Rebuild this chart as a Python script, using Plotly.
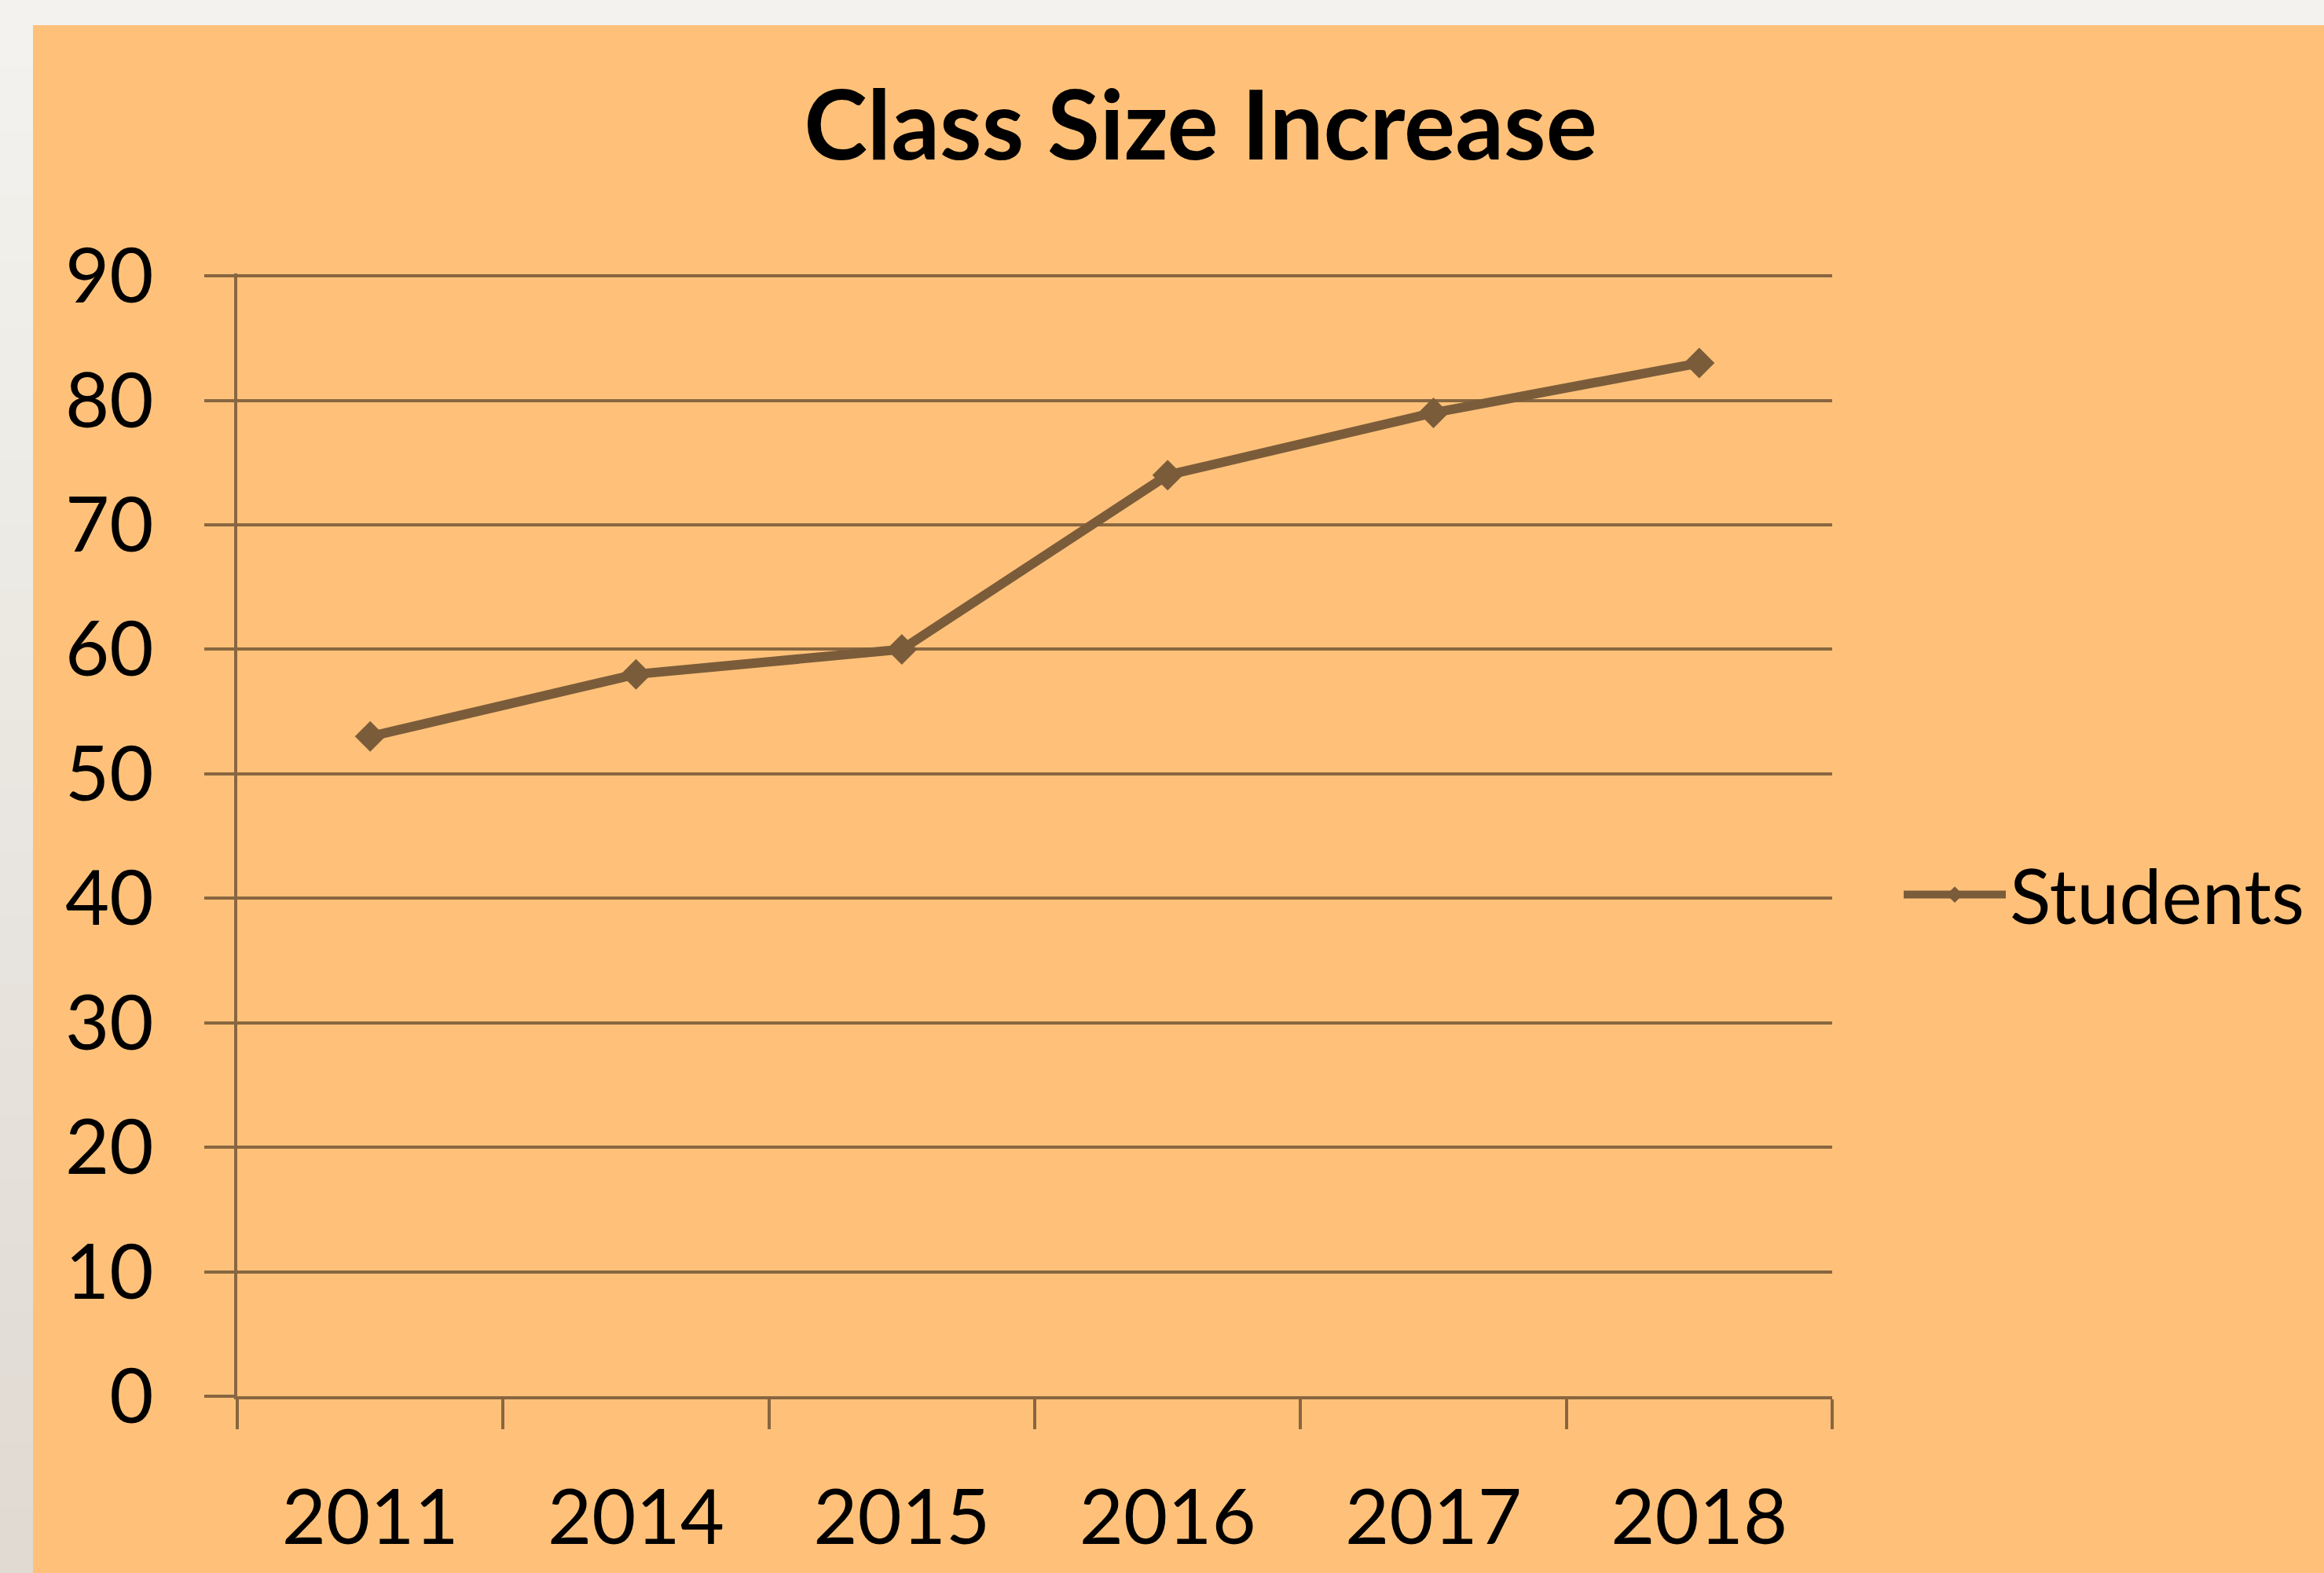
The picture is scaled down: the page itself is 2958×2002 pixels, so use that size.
import plotly.graph_objects as go

# ---- data ----
years = ["2011", "2014", "2015", "2016", "2017", "2018"]
students = [53, 58, 60, 74, 79, 83]
y_ticks = [0, 10, 20, 30, 40, 50, 60, 70, 80, 90]
y_max = 90

# ---- styling ----
W, H = 2958, 2002
ML, MR, MT, MB = 302, 626, 348, 225
PANEL = "#FFC179"
OUTER_TOP = (0xF3, 0xF2, 0xEE)
OUTER_BOT = (0xE0, 0xDA, 0xD3)
LINE = "#7B5C3A"
GRID = "#886640"
FONT = "Lato"
LABEL_SIZE = 97
LW = 4
Y_PAD = 0.2  # keeps the top gridline just inside the plot area so it is drawn

fig = go.Figure()
fig.add_trace(go.Scatter(
    x=years, y=students, mode="lines+markers", name="Students",
    line=dict(color=LINE, width=12),
    marker=dict(symbol="diamond", size=30, color=LINE),
))

pw = W - ML - MR
ph = H - MT - MB

def px_x(p):
    return (p - ML) / pw

def px_y(p):
    return (H - MB - p) / ph

shapes = []
# outer light strip (top)
shapes.append(dict(type="rect", xref="paper", yref="paper", layer="below",
                   x0=px_x(0), x1=px_x(W), y0=px_y(32), y1=px_y(0),
                   fillcolor="rgb(%d,%d,%d)" % OUTER_TOP, line=dict(width=0)))
# outer strip (left) with gradient bands
n = 24
for i in range(n):
    t = i / (n - 1)
    c = tuple(round(OUTER_TOP[k] + (OUTER_BOT[k] - OUTER_TOP[k]) * t) for k in range(3))
    y0p = i * H / n
    y1p = (i + 1) * H / n + 1
    shapes.append(dict(type="rect", xref="paper", yref="paper", layer="below",
                       x0=px_x(0), x1=px_x(42), y0=px_y(y1p), y1=px_y(y0p),
                       fillcolor="rgb(%d,%d,%d)" % c, line=dict(width=0)))

ITEMW = 130
fig.update_layout(
    width=W, height=H,
    margin=dict(l=ML, r=MR, t=MT, b=MB),
    paper_bgcolor=PANEL, plot_bgcolor=PANEL,
    font=dict(family=FONT, color="#000000", size=LABEL_SIZE),
    title=dict(text="<b>Class Size Increase</b>", x=1528 / W, xref="container",
               xanchor="center", y=1 - 160 / H, yref="container", yanchor="middle",
               font=dict(family=FONT, size=122, color="#000000")),
    showlegend=True,
    legend=dict(x=(2558 - ITEMW - 10) / W, xref="container", xanchor="left",
                y=1 - 1139 / H, yref="container", yanchor="middle",
                itemwidth=ITEMW,
                font=dict(family=FONT, size=LABEL_SIZE, color="#000000"),
                bgcolor="rgba(0,0,0,0)"),
    shapes=shapes,
    xaxis=dict(type="category", range=[-0.5, len(years) - 0.5],
               showgrid=False, showline=True, linecolor=GRID,
               linewidth=LW, ticks="outside", tickson="boundaries", ticklen=38,
               tickwidth=LW, tickcolor=GRID, ticklabelstandoff=68,
               tickfont=dict(family=FONT, size=LABEL_SIZE, color="#000000"),
               zeroline=False, fixedrange=True),
    yaxis=dict(range=[0, y_max + Y_PAD], tickvals=y_ticks, showgrid=True, gridcolor=GRID,
               gridwidth=LW, showline=True, linecolor=GRID, linewidth=LW,
               ticks="outside", ticklen=38, tickwidth=LW, tickcolor=GRID,
               ticklabelstandoff=45,
               tickfont=dict(family=FONT, size=LABEL_SIZE, color="#000000"),
               zeroline=False, fixedrange=True),
)

fig.write_html("out.html", config={"displayModeBar": False},
               post_script="document.body.style.margin='0';document.body.style.padding='0';")
